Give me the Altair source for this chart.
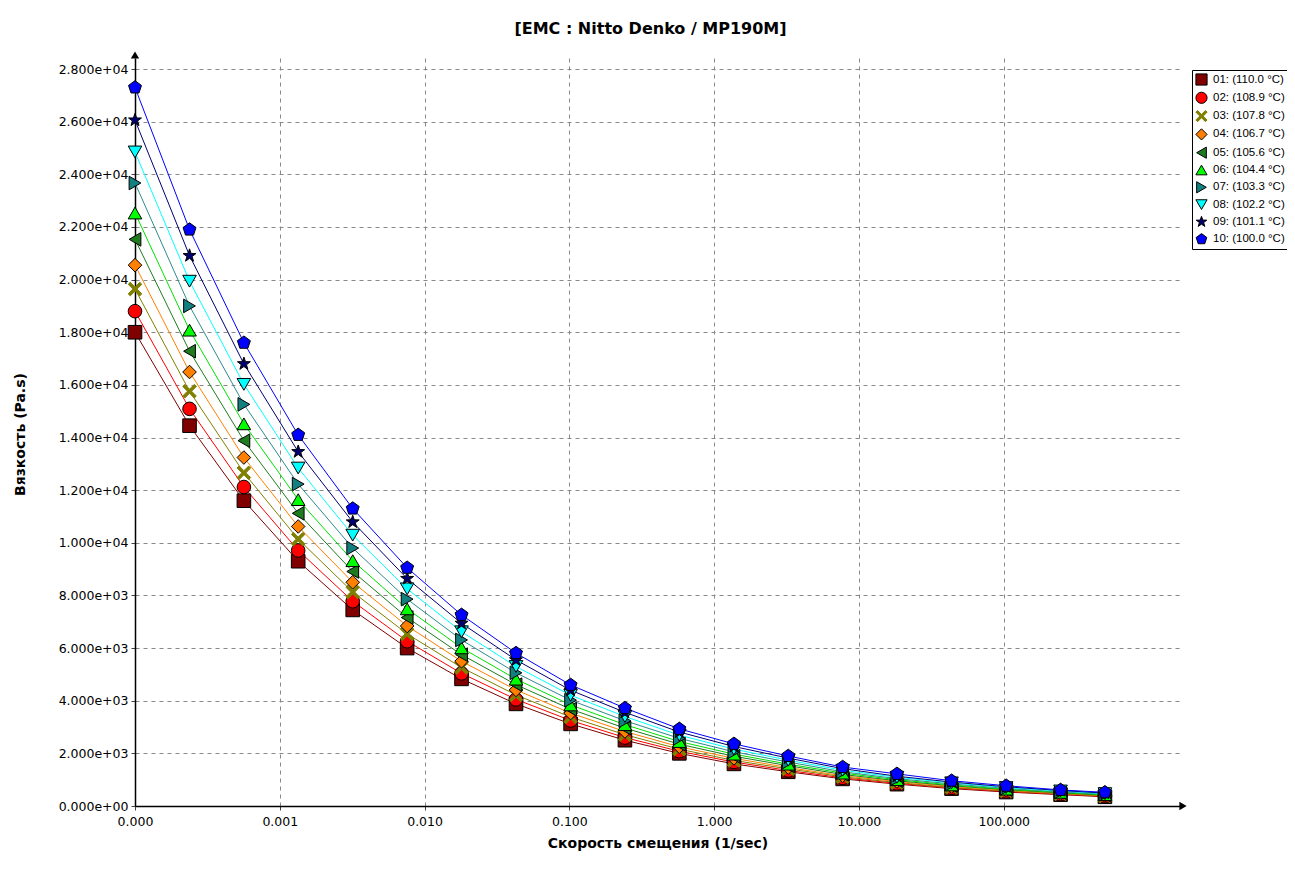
import altair as alt
import pandas as pd

# ---- data ----
series_labels = ["01: (110.0 °C)", "02: (108.9 °C)", "03: (107.8 °C)", "04: (106.7 °C)",
                 "05: (105.6 °C)", "06: (104.4 °C)", "07: (103.3 °C)", "08: (102.2 °C)",
                 "09: (101.1 °C)", "10: (100.0 °C)"]

shear_rate = [0.0001, 0.000238, 0.000565, 0.00134, 0.00319, 0.00758, 0.0180, 0.0428,
              0.102, 0.242, 0.575, 1.37, 3.25, 7.72, 18.3, 43.6, 104, 247, 500]

visc_01 = [18000, 14450, 11600, 9300, 7450, 6000, 4830, 3880, 3120, 2500, 2000, 1600, 1300, 1030, 830, 660, 530, 430, 350]
visc_02 = [18800, 15090, 12120, 9710, 7780, 6260, 5040, 4050, 3250, 2600, 2080, 1670, 1350, 1070, 860, 690, 550, 450, 370]
visc_03 = [19640, 15760, 12660, 10140, 8130, 6540, 5260, 4220, 3380, 2710, 2160, 1730, 1410, 1110, 890, 710, 570, 470, 380]
visc_04 = [20550, 16490, 13240, 10620, 8500, 6840, 5500, 4410, 3530, 2830, 2250, 1810, 1460, 1150, 930, 740, 600, 480, 400]
visc_05 = [21530, 17280, 13880, 11120, 8910, 7160, 5750, 4610, 3680, 2960, 2350, 1890, 1530, 1200, 960, 770, 620, 500, 410]
visc_06 = [22530, 18080, 14520, 11640, 9320, 7490, 6010, 4820, 3840, 3090, 2450, 1970, 1590, 1250, 1000, 800, 640, 520, 430]
visc_07 = [23670, 19000, 15260, 12230, 9800, 7860, 6310, 5060, 4020, 3240, 2570, 2060, 1670, 1300, 1040, 840, 670, 540, 450]
visc_08 = [24850, 19940, 16020, 12840, 10290, 8250, 6620, 5300, 4210, 3400, 2690, 2160, 1740, 1360, 1090, 880, 700, 570, 470]
visc_09 = [26060, 20910, 16800, 13460, 10790, 8640, 6940, 5550, 4400, 3560, 2810, 2260, 1820, 1420, 1130, 910, 730, 590, 490]
visc_10 = [27300, 21900, 17600, 14100, 11300, 9050, 7260, 5810, 4600, 3720, 2930, 2360, 1900, 1480, 1220, 960, 770, 610, 520]

all_visc = [visc_01, visc_02, visc_03, visc_04, visc_05, visc_06, visc_07, visc_08, visc_09, visc_10]

fill_colors = ["#800000", "#FF0000", "#808000", "#FF8000", "#1E7B1E",
               "#00FF00", "#138080", "#00FFFF", "#000070", "#0000FF"]
line_colors = ["#800000", "#FF0000", "#808000", "#FF8000", "#1E7B1E",
               "#00E000", "#2E8B8B", "#00FFFF", "#000070", "#0000FF"]
stroke_colors = ["black", "black", "#808000", "black", "black",
                 "black", "black", "black", "black", "black"]

X_PATH = "M-1,-0.7L-0.7,-1L0,-0.3L0.7,-1L1,-0.7L0.3,0L1,0.7L0.7,1L0,0.3L-0.7,1L-1,0.7L-0.3,0Z"
STAR = ("M0,-1L0.235,-0.324L0.951,-0.309L0.38,0.124L0.588,0.809L0,0.4L-0.588,0.809"
        "L-0.38,0.124L-0.951,-0.309L-0.235,-0.324Z")
PENTA = "M0,-1L0.951,-0.309L0.588,0.809L-0.588,0.809L-0.951,-0.309Z"
shapes = ["square", "circle", X_PATH, "diamond", "triangle-left", "triangle-up",
          "triangle-right", "triangle-down", STAR, PENTA]

rows = []
for lab, vals in zip(series_labels, all_visc):
    for s, v in zip(shear_rate, vals):
        rows.append({"series": lab, "rate": s, "visc": v})
df = pd.DataFrame(rows)

W, H = 1045, 748

x_enc = alt.X("rate:Q",
              scale=alt.Scale(type="log", domain=[0.0001, 1650], nice=False),
              axis=alt.Axis(values=[0.0001, 0.001, 0.01, 0.1, 1, 10, 100], format=".3f",
                            labelFlush=False,
                            title="Скорость смещения (1/sec)", titleY=30, titleBaseline="top"))
y_enc = alt.Y("visc:Q",
              scale=alt.Scale(domain=[0, 28420], nice=False, zero=True),
              axis=alt.Axis(values=list(range(0, 28001, 2000)),
                            labelExpr="datum.value == 0 ? '0.000e+00' : (datum.value < 10000 ? format(datum.value/1000, '.3f') + 'e+03' : format(datum.value/10000, '.3f') + 'e+04')",
                            title="Вязкость (Pa.s)", titleX=-108, titleY=376))

# line colours: domain taken from the (sorted) data so this disabled legend is not merged with the marker legend
lines = alt.Chart(df).mark_line(strokeWidth=1).encode(
    x=x_enc, y=y_enc,
    color=alt.Color("series:N", scale=alt.Scale(range=line_colors), legend=None),
)

leg = alt.Legend(orient="none", legendX=1057, legendY=12)
points = alt.Chart(df).mark_point(filled=True, size=185, strokeWidth=1, opacity=1).encode(
    x=x_enc, y=y_enc,
    fill=alt.Fill("series:N", scale=alt.Scale(domain=series_labels, range=fill_colors), legend=leg, title=None),
    stroke=alt.Stroke("series:N", scale=alt.Scale(domain=series_labels, range=stroke_colors), legend=leg, title=None),
    shape=alt.Shape("series:N", scale=alt.Scale(domain=series_labels, range=shapes), legend=leg, title=None),
)

dummy = pd.DataFrame({"a": [0]})
arrow_up = alt.Chart(dummy).mark_point(shape="triangle-up", filled=True, color="black", size=70, opacity=1).encode(
    x=alt.value(0), y=alt.value(-3))
arrow_right = alt.Chart(dummy).mark_point(shape="triangle-right", filled=True, color="black", size=70, opacity=1).encode(
    x=alt.value(W + 3), y=alt.value(H))

chart = alt.layer(lines, points, arrow_up, arrow_right).properties(
    width=W, height=H,
    title=alt.TitleParams("[EMC : Nitto Denko / MP190M]", font="DejaVu Sans", fontSize=16,
                          fontWeight="bold", anchor="middle", offset=14, dx=-7, color="black"),
    autosize=alt.AutoSizeParams(type="none"),
    padding={"left": 127, "top": 50, "right": 107, "bottom": 55},
    background="white",
).configure_view(stroke=None).configure_axis(
    gridDash=[4, 4], gridColor="#888888", gridWidth=1, gridOpacity=1,
    domainColor="black", domainWidth=1.5, tickColor="#444444", tickSize=4,
    labelFont="DejaVu Sans", labelFontSize=12.5, labelColor="black",
    titleFont="DejaVu Sans", titleFontSize=14, titleFontWeight="bold", titleColor="black",
).configure_axisX(labelPadding=5).configure_axisY(labelPadding=3).configure_legend(
    strokeColor="black", fillColor="white", padding=3, rowPadding=1.3,
    labelFont="Liberation Sans", labelFontSize=11.5, labelColor="black", labelOffset=5,
    symbolSize=125, symbolStrokeWidth=1, labelLimit=300,
)

chart.save("out.html", embed_options={"renderer": "svg", "actions": False})
